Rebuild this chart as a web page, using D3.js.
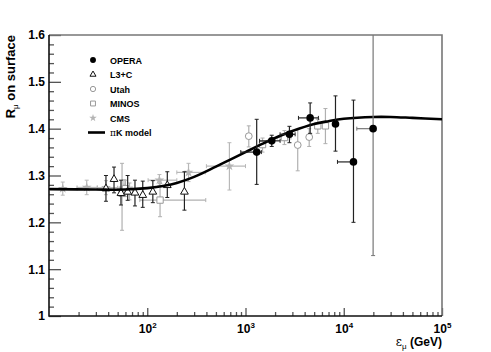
<!DOCTYPE html>
<html>
<head>
<meta charset="utf-8">
<script src="https://cdn.jsdelivr.net/npm/d3@7"></script>
<style>
  body { margin: 0; background: #fff; }
  text { font-family: "Liberation Sans", Arial, sans-serif; }
</style>
</head>
<body>
<div id="vis"></div>
<script>
// measured points: e = surface energy (GeV), r = charge ratio, rLo/rHi and eLo/eHi = error bar ends
var opera = [
    { e: 1300, r: 1.350, rLo: 1.281, rHi: 1.420, eLo: 895, eHi: 1450 },
    { e: 1850, r: 1.374, rLo: 1.362, rHi: 1.386, eLo: 1390, eHi: 2250 },
    { e: 2800, r: 1.388, rLo: 1.370, rHi: 1.405, eLo: 2250, eHi: 3200 },
    { e: 4550, r: 1.423, rLo: 1.390, rHi: 1.455, eLo: 3460, eHi: 5520 },
    { e: 8240, r: 1.410, rLo: 1.352, rHi: 1.470, eLo: 8240, eHi: 8240 },
    { e: 12560, r: 1.329, rLo: 1.200, rHi: 1.461, eLo: 8630, eHi: 12560 },
    { e: 19900, r: 1.400, rLo: 1.129, rHi: 1.700, eLo: 13580, eHi: 19900 }
];
var l3c = [
    { e: 38, r: 1.272, rLo: 1.245, rHi: 1.300 },
    { e: 45.9, r: 1.292, rLo: 1.263, rHi: 1.318 },
    { e: 54, r: 1.262, rLo: 1.237, rHi: 1.290 },
    { e: 63.2, r: 1.265, rLo: 1.247, rHi: 1.300 },
    { e: 75, r: 1.263, rLo: 1.235, rHi: 1.290 },
    { e: 90, r: 1.258, rLo: 1.232, rHi: 1.288 },
    { e: 114, r: 1.265, rLo: 1.242, rHi: 1.289 },
    { e: 160, r: 1.279, rLo: 1.253, rHi: 1.308 },
    { e: 239, r: 1.265, rLo: 1.226, rHi: 1.308 }
];
var utah = [
    { e: 1080, r: 1.384, rLo: 1.361, rHi: 1.406 },
    { e: 3400, r: 1.365, rLo: 1.310, rHi: 1.398 },
    { e: 4450, r: 1.382, rLo: 1.362, rHi: 1.400 }
];
var minos = [
    { e: 55.4, r: 1.262, rLo: 1.183, rHi: 1.326 },
    { e: 60, r: 1.272, rLo: 1.255, rHi: 1.290, eLo: 52, eHi: 68 },
    { e: 66, r: 1.266, rLo: 1.248, rHi: 1.284, eLo: 58, eHi: 75 },
    { e: 135, r: 1.2475, rLo: 1.212, rHi: 1.283, eLo: 84, eHi: 394 },
    { e: 1490, r: 1.366, rLo: 1.350, rHi: 1.380 },
    { e: 2490, r: 1.381, rLo: 1.366, rHi: 1.396, eLo: 2100, eHi: 2900 },
    { e: 5440, r: 1.406, rLo: 1.390, rHi: 1.420 },
    { e: 6510, r: 1.406, rLo: 1.368, rHi: 1.443 }
];
var cms = [
    { e: 13.8, r: 1.272, rLo: 1.258, rHi: 1.286, eLo: 10, eHi: 19.3 },
    { e: 24.2, r: 1.2745, rLo: 1.259, rHi: 1.290, eLo: 19.3, eHi: 31 },
    { e: 38, r: 1.274, rLo: 1.259, rHi: 1.289, eLo: 31, eHi: 50 },
    { e: 58, r: 1.273, rLo: 1.255, rHi: 1.291, eLo: 50, eHi: 70 },
    { e: 133, r: 1.290, rLo: 1.278, rHi: 1.302, eLo: 102, eHi: 200 },
    { e: 263, r: 1.3066, rLo: 1.287, rHi: 1.326, eLo: 200, eHi: 390 },
    { e: 686, r: 1.320, rLo: 1.269, rHi: 1.370, eLo: 400, eHi: 1000 }
];

// pi-K model curve
var modelE = [10, 30, 60, 100, 150, 200, 300, 500, 700, 1000, 1500, 2000, 3000, 5000, 7000, 10000, 20000, 30000, 50000, 100000];
var modelR = [1.271, 1.270, 1.270, 1.273, 1.278, 1.284, 1.297, 1.319, 1.334, 1.350, 1.368, 1.380, 1.395, 1.410, 1.416, 1.421, 1.425, 1.425, 1.423, 1.420];

var yMajor = [1, 1.1, 1.2, 1.3, 1.4, 1.5, 1.6];
var xMajor = [100, 1000, 10000, 100000];
var xLabels = ["2", "3", "4", "5"];

var margin = { top: 35, right: 49, bottom: 36, left: 49 },
    width = 491 - margin.left - margin.right,
    height = 352 - margin.top - margin.bottom;

var root = d3.select("#vis")
    .append("svg")
    .attr("width", 491)
    .attr("height", 352);

var svg = root.append("g")
    .attr("transform", "translate(" + margin.left + "," + margin.top + ")");

var x = d3.scaleLog().domain([10, 1e5]).range([0, width]);
var y = d3.scaleLinear().domain([1, 1.6]).range([height, 0]);

svg.append("clipPath").attr("id", "clip")
    .append("rect").attr("width", width).attr("height", height);

// y axis: major + minor ticks pointing inwards
var yMinor = d3.range(1, 1.6001, 0.02).filter(v => Math.abs(v * 10 - Math.round(v * 10)) > 1e-6);
svg.append("g")
    .attr("class", "yminor")
    .call(d3.axisLeft(y).tickValues(yMinor).tickSize(-5).tickFormat(""));
svg.append("g")
    .attr("class", "ymajor")
    .call(d3.axisLeft(y).tickValues(yMajor).tickSize(-12).tickPadding(4)
        .tickFormat(d => d === 1 ? "1" : d3.format(".1f")(d)));

// x axis
var xMinor = [];
[10, 100, 1000, 10000].forEach(function (dec) {
    for (var k = 2; k <= 9; k++) xMinor.push(dec * k);
});
svg.append("g")
    .attr("transform", "translate(0," + height + ")")
    .call(d3.axisBottom(x).tickValues(xMinor).tickSize(-4).tickFormat(""));
var xg = svg.append("g")
    .attr("transform", "translate(0," + height + ")")
    .call(d3.axisBottom(x).tickValues(xMajor).tickSize(-8).tickFormat(""));

svg.selectAll(".domain").remove();
svg.selectAll(".tick line").attr("stroke", "#555").attr("stroke-width", 1.3);
svg.selectAll(".ymajor text")
    .attr("font-size", 12).attr("font-weight", "bold").attr("fill", "#000");

xg.selectAll(".tick").each(function (d, i) {
    var t = d3.select(this).append("text")
        .attr("y", 17)
        .attr("fill", "#000")
        .attr("text-anchor", "middle")
        .attr("font-weight", "bold")
        .attr("font-size", 12);
    t.append("tspan").text("10");
    t.append("tspan").attr("dy", -5).attr("font-size", 8).text(xLabels[i]);
});

// frame
svg.append("path")
    .attr("d", "M0,0H" + width + "V" + height)
    .attr("fill", "none").attr("stroke", "#777").attr("stroke-width", 1.6);
svg.append("path")
    .attr("d", "M0,0V" + height + "H" + width)
    .attr("fill", "none").attr("stroke", "#111").attr("stroke-width", 1.6);

// axis titles
var yt = root.append("text")
    .attr("transform", "translate(15,35) rotate(-90)")
    .attr("text-anchor", "end")
    .attr("font-size", 13)
    .attr("font-weight", "bold");
yt.append("tspan").text("R");
yt.append("tspan").attr("dy", 3).attr("font-size", 8).attr("font-weight", "normal").text("\u03bc");
yt.append("tspan").attr("dy", -3).text(" on surface");

var xt = root.append("text")
    .attr("x", 442).attr("y", 346)
    .attr("text-anchor", "end")
    .attr("font-size", 12)
    .attr("font-weight", "bold");
xt.append("tspan").attr("font-weight", "normal").attr("font-family", "DejaVu Serif").text("\u03b5");
xt.append("tspan").attr("dy", 3).attr("font-size", 8).attr("font-weight", "normal").text("\u03bc");
xt.append("tspan").attr("dy", -3).text(" (GeV)");

// error bars + markers
var plot = svg.append("g").attr("clip-path", "url(#clip)");

function drawSeries(data, barColor, drawMarker) {
    var g = plot.append("g");
    data.forEach(function (d) {
        var cx = x(d.e), cy = y(d.r);
        g.append("line")
            .attr("x1", cx).attr("x2", cx)
            .attr("y1", y(d.rLo)).attr("y2", y(d.rHi))
            .attr("stroke", barColor).attr("stroke-width", 1.2);
        [d.rLo, d.rHi].forEach(function (v) {
            g.append("line")
                .attr("x1", cx - 2).attr("x2", cx + 2)
                .attr("y1", y(v)).attr("y2", y(v))
                .attr("stroke", barColor).attr("stroke-width", 1);
        });
        if (d.eLo !== undefined && (d.eLo !== d.e || d.eHi !== d.e)) {
            g.append("line")
                .attr("x1", x(d.eLo)).attr("x2", x(d.eHi))
                .attr("y1", cy).attr("y2", cy)
                .attr("stroke", barColor).attr("stroke-width", 1.2);
            [d.eLo, d.eHi].forEach(function (v) {
                if (v === d.e) return;
                g.append("line")
                    .attr("x1", x(v)).attr("x2", x(v))
                    .attr("y1", cy - 2).attr("y2", cy + 2)
                    .attr("stroke", barColor).attr("stroke-width", 1);
            });
        }
    });
    data.forEach(function (d) {
        drawMarker(g, x(d.e), y(d.r), 1);
    });
}

function star(g, cx, cy, s) {
    g.append("path").attr("transform", "translate(" + cx + "," + cy + ")")
        .attr("d", d3.symbol().type(d3.symbolStar).size(30 * s)())
        .attr("fill", "#b4b4b4");
}
function square(g, cx, cy, s) {
    g.append("path").attr("transform", "translate(" + cx + "," + cy + ")")
        .attr("d", d3.symbol().type(d3.symbolSquare).size(40 * s)())
        .attr("fill", "#fff").attr("stroke", "#999").attr("stroke-width", 1);
}
function circle(g, cx, cy, s) {
    g.append("circle").attr("cx", cx).attr("cy", cy).attr("r", 3.4 * Math.sqrt(s))
        .attr("fill", "#fff").attr("stroke", "#999").attr("stroke-width", 1);
}
function triangle(g, cx, cy, s) {
    g.append("path").attr("transform", "translate(" + cx + "," + cy + ")")
        .attr("d", d3.symbol().type(d3.symbolTriangle).size(26 * s)())
        .attr("fill", "#fff").attr("stroke", "#111").attr("stroke-width", 1);
}
function dot(g, cx, cy, s) {
    g.append("circle").attr("cx", cx).attr("cy", cy).attr("r", 3.8 * Math.sqrt(s)).attr("fill", "#000");
}

drawSeries(cms, "#b8b8b8", star);
drawSeries(minos, "#b0b0b0", square);
drawSeries(utah, "#b0b0b0", circle);
drawSeries(l3c, "#222", triangle);

// model curve
var model = modelE.map((e, i) => ({ e: e, r: modelR[i] }));
plot.append("path")
    .datum(model)
    .attr("fill", "none")
    .attr("stroke", "#000")
    .attr("stroke-width", 2.6)
    .attr("d", d3.line().curve(d3.curveCatmullRom.alpha(0.5))
        .x(d => x(d.e))
        .y(d => y(d.r)));

drawSeries(opera.slice(0, 6), "#222", dot);
drawSeries(opera.slice(6), "#777", dot);

// legend
var legendItems = [
    { name: "OPERA", mark: dot },
    { name: "L3+C", mark: triangle },
    { name: "Utah", mark: circle },
    { name: "MINOS", mark: square },
    { name: "CMS", mark: star }
];
var lg = root.append("g");
legendItems.forEach(function (item, i) {
    var ly = 60 + i * 14.5;
    item.mark(lg, 93, ly, 0.6);
    lg.append("text").attr("x", 110).attr("y", ly + 3.5)
        .attr("font-size", 9).attr("font-weight", "bold").text(item.name);
});
lg.append("line").attr("x1", 88).attr("x2", 105).attr("y1", 132.5).attr("y2", 132.5)
    .attr("stroke", "#000").attr("stroke-width", 2.6);
var pk = lg.append("text").attr("x", 110).attr("y", 136)
    .attr("font-size", 9).attr("font-weight", "bold");
pk.append("tspan").attr("font-weight", "normal").attr("font-family", "DejaVu Serif").text("\u03c0");
pk.append("tspan").text("K model");
</script>
</body>
</html>
